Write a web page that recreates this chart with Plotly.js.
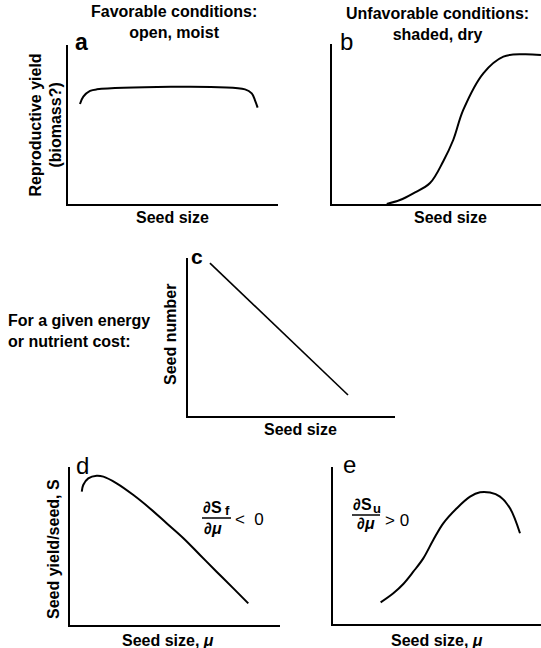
<!DOCTYPE html>
<html><head><meta charset="utf-8">
<script src="https://cdn.plot.ly/plotly-3.0.1.min.js"></script>
<style>html,body{margin:0;padding:0;background:#fff}#chart{width:541px;height:648px}</style>
</head><body><div id="chart"></div>
<script>
// Panel a: favorable conditions, reproductive yield vs seed size
const aSize  = [5.7, 7.3, 10.5, 13.7, 84.3, 87.5, 89.0, 90.3];
const aYield = [62.9, 67.5, 71.1, 72.1, 72.1, 69.6, 65.4, 60.6];
// Panel b: unfavorable conditions
const bSize  = [26.2, 32.5, 38.9, 46.9, 53.3, 58.0, 62.8, 72.4, 82.0, 91.5, 100];
const bYield = [0, 2.5, 6.7, 13.1, 26.9, 40.0, 58.8, 81.7, 92.1, 93.6, 93.1];
// Panel c: seed number vs seed size
const cSize   = [10.6, 77.3];
const cNumber = [96.8, 13.3];
// Panel d: seed yield/seed, favorable
const dSize  = [5.6, 6.3, 8.7, 12.7, 15.9, 22.2, 30.2, 38.1, 46.0, 54.0, 61.9, 69.8, 77.8, 84.9];
const dYield = [84.4, 88.6, 92.8, 94.5, 93.9, 89.7, 82.3, 73.8, 64.4, 54.9, 44.3, 33.7, 23.2, 13.7];
// Panel e: seed yield/seed, unfavorable
const eSize  = [22.9, 29.0, 33.8, 38.6, 43.4, 48.2, 53.0, 59.5, 65.9, 70.7, 75.5, 80.3, 85.1, 89.9];
const eYield = [13.8, 19.6, 25.5, 33.3, 41.8, 53.5, 64.1, 73.7, 81.1, 83.9, 83.7, 81.1, 73.7, 57.8];

const panelLetters = ['a', 'b', 'c', 'd', 'e'];
const W = 541, H = 648;
const FONT = 'Liberation Sans, Arial, Helvetica, sans-serif';
const px = x => x / W;
const py = y => 1 - y / H;

function xax(x0, x1, anchor) {
  return {domain: [px(x0), px(x1)], anchor: anchor, range: [0, 100], showline: true,
    linecolor: '#000', linewidth: 2, showgrid: false, zeroline: false,
    showticklabels: false, ticks: '', fixedrange: true};
}
function yax(y0, y1, anchor) {
  return {domain: [py(y1), py(y0)], anchor: anchor, range: [0, 100], showline: true,
    linecolor: '#000', linewidth: 2, showgrid: false, zeroline: false,
    showticklabels: false, ticks: '', fixedrange: true};
}
const line = w => ({color: '#000', width: w, shape: 'spline', smoothing: 1});
const traces = [
  {x: aSize, y: aYield, xaxis: 'x', yaxis: 'y', mode: 'lines', line: line(2)},
  {x: bSize, y: bYield, xaxis: 'x2', yaxis: 'y2', mode: 'lines', line: line(2)},
  {x: cSize, y: cNumber, xaxis: 'x3', yaxis: 'y3', mode: 'lines', line: {color: '#000', width: 1.6}},
  {x: dSize, y: dYield, xaxis: 'x4', yaxis: 'y4', mode: 'lines', line: line(2)},
  {x: eSize, y: eYield, xaxis: 'x5', yaxis: 'y5', mode: 'lines', line: line(2)}
];

function ann(text, x, y, size, opts) {
  return Object.assign({text: text, x: px(x), y: py(y), xref: 'paper', yref: 'paper',
    showarrow: false, xanchor: 'center', yanchor: 'middle',
    font: {family: FONT, size: size, color: '#000', weight: 'bold'}}, opts || {});
}
const reg = (s) => ({family: FONT, size: s, color: '#000', weight: 'normal'});

const annotations = [
  ann('Favorable conditions:<br>open, moist', 174, 22, 16),
  ann('Unfavorable conditions:<br>shaded, dry', 437, 24, 16),
  ann(panelLetters[0], 81, 42, 23),
  ann(panelLetters[1], 346, 42, 24, {font: reg(24)}),
  ann(panelLetters[2], 197, 256, 21),
  ann(panelLetters[3], 82, 465, 24, {font: reg(24)}),
  ann(panelLetters[4], 349, 464, 24, {font: reg(24)}),
  ann('Reproductive yield<br>(biomass?)', 45.5, 125, 16, {textangle: -90}),
  ann('Seed size', 172, 218, 16),
  ann('Seed size', 450, 218, 16),
  ann('Seed number', 170, 335, 16, {textangle: -90}),
  ann('For a given energy<br>or nutrient cost:', 6, 331, 16, {xanchor: 'left', align: 'left'}),
  ann('Seed size', 300, 430, 16),
  ann('Seed yield/seed, S', 53, 549, 16, {textangle: -90}),
  ann('Seed size, <i>μ</i>', 168, 640, 16),
  ann('Seed size, <i>μ</i>', 437, 640, 16),
  ann('∂S', 212, 507, 16),
  ann('f', 227, 511, 13),
  ann('∂<i>μ</i>', 213, 528, 16),
  ann('<  0', 249, 519, 16, {font: reg(17)}),
  ann('∂S', 362, 504, 16),
  ann('u', 377, 508, 13),
  ann('∂<i>μ</i>', 366, 523, 16),
  ann('> 0', 397, 520, 16, {font: reg(17)})
];
const shapes = [
  {type: 'line', xref: 'paper', yref: 'paper', x0: px(202), x1: px(231), y0: py(518), y1: py(518), line: {color: '#000', width: 1.5}},
  {type: 'line', xref: 'paper', yref: 'paper', x0: px(352), x1: px(380), y0: py(515), y1: py(515), line: {color: '#000', width: 1.5}}
];

const layout = {
  width: W, height: H, margin: {l: 0, r: 0, t: 0, b: 0},
  paper_bgcolor: '#fff', plot_bgcolor: 'rgba(0,0,0,0)', showlegend: false,
  font: {family: FONT, color: '#000'},
  xaxis: xax(68, 278, 'y'), yaxis: yax(45, 204, 'x'),
  xaxis2: xax(332, 541, 'y2'), yaxis2: yax(44, 204, 'x2'),
  xaxis3: xax(188, 395, 'y3'), yaxis3: yax(258, 416, 'x3'),
  xaxis4: xax(70, 280, 'y4'), yaxis4: yax(467, 625, 'x4'),
  xaxis5: xax(333, 541, 'y5'), yaxis5: yax(467, 624, 'x5'),
  annotations: annotations, shapes: shapes
};
Plotly.newPlot('chart', traces, layout, {staticPlot: true, displayModeBar: false});
</script></body></html>
